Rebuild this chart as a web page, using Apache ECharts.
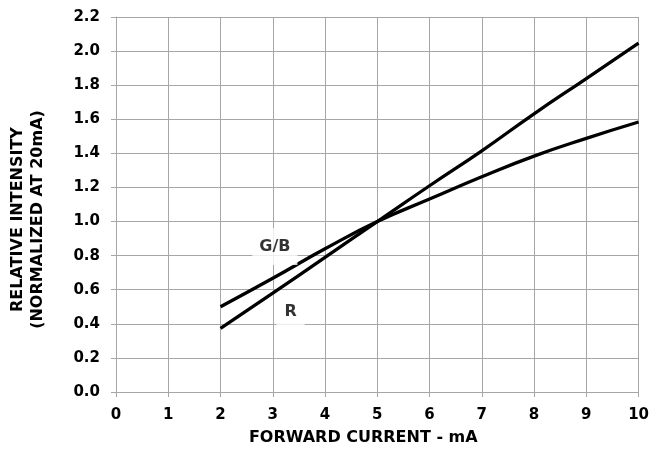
<!DOCTYPE html>
<html>
<head>
<meta charset="utf-8">
<script src="https://cdn.jsdelivr.net/npm/echarts@6/dist/echarts.min.js"></script>
<style>
  html, body { margin: 0; padding: 0; background: #fff; }
  #chart { width: 652px; height: 454px; }
</style>
</head>
<body>
<div id="chart"></div>
<script>
// values
const current = [2, 3, 4, 5, 6, 7, 8, 9, 10];
const gbValues = [0.50, 0.667, 0.84, 1.00, 1.132, 1.263, 1.384, 1.488, 1.584];
const rValues = [0.373, 0.58, 0.79, 1.00, 1.21, 1.415, 1.632, 1.839, 2.047];

// curve labels, placed in data coordinates
const labelNames = ['G/B', 'R'];
const labelX = [3.04, 3.34];
const labelY = [0.853, 0.469];

const gridColor = '#a6a6a6';
const font = 'DejaVu Sans';

const chart = echarts.init(document.getElementById('chart'));

chart.setOption({
    animation: false,
    grid: { left: 115, right: 13, top: 17, bottom: 62 },
    xAxis: {
        type: 'value',
        min: 0, max: 10, interval: 1,
        name: 'FORWARD CURRENT - mA',
        nameLocation: 'middle',
        nameGap: 38,
        nameTextStyle: { fontFamily: font, fontWeight: 'bold', fontSize: 16, color: '#000', padding: [0, 28, 0, 0] },
        axisLine: { lineStyle: { color: gridColor, width: 1 } },
        axisTick: { show: true, length: 5, lineStyle: { color: gridColor } },
        axisLabel: { margin: 16, fontFamily: font, fontWeight: 'bold', fontSize: 15, color: '#000' },
        splitLine: { show: true, lineStyle: { color: gridColor, width: 1 } }
    },
    yAxis: {
        type: 'value',
        min: 0, max: 2.2, interval: 0.2,
        name: 'RELATIVE INTENSITY\n(NORMALIZED AT 20mA)',
        nameLocation: 'middle',
        nameGap: 68,
        nameTextStyle: { fontFamily: font, fontWeight: 'bold', fontSize: 16, lineHeight: 20, color: '#000', padding: [0, 30, 0, 0] },
        axisLine: { show: true, lineStyle: { color: gridColor, width: 1 } },
        axisTick: { show: true, length: 5, lineStyle: { color: gridColor } },
        axisLabel: {
            margin: 16, fontFamily: font, fontWeight: 'bold', fontSize: 15, color: '#000',
            formatter: v => v.toFixed(1)
        },
        splitLine: { show: true, lineStyle: { color: gridColor, width: 1 } }
    },
    series: [
        {
            name: 'G/B',
            type: 'line',
            smooth: true,
            symbol: 'none',
            data: current.map((x, i) => [x, gbValues[i]]),
            lineStyle: { color: '#000', width: 3.3 },
            z: 3
        },
        {
            name: 'R',
            type: 'line',
            smooth: true,
            symbol: 'none',
            data: current.map((x, i) => [x, rValues[i]]),
            lineStyle: { color: '#000', width: 3.3 },
            z: 3
        },
        {
            type: 'scatter',
            symbolSize: 0,
            itemStyle: { color: 'rgba(0,0,0,0)' },
            silent: true,
            z: 10,
            data: labelNames.map((n, i) => ({
                value: [labelX[i], labelY[i]],
                label: {
                    show: true,
                    position: 'inside',
                    formatter: n,
                    fontFamily: font, fontWeight: 'bold', fontSize: 16, color: '#000',
                    textBorderWidth: 0,
                    backgroundColor: '#fff',
                    padding: i === 0 ? [11, 7, 10, 7] : [6, 8, 6, 8]
                }
            }))
        }
    ]
});
</script>
</body>
</html>
